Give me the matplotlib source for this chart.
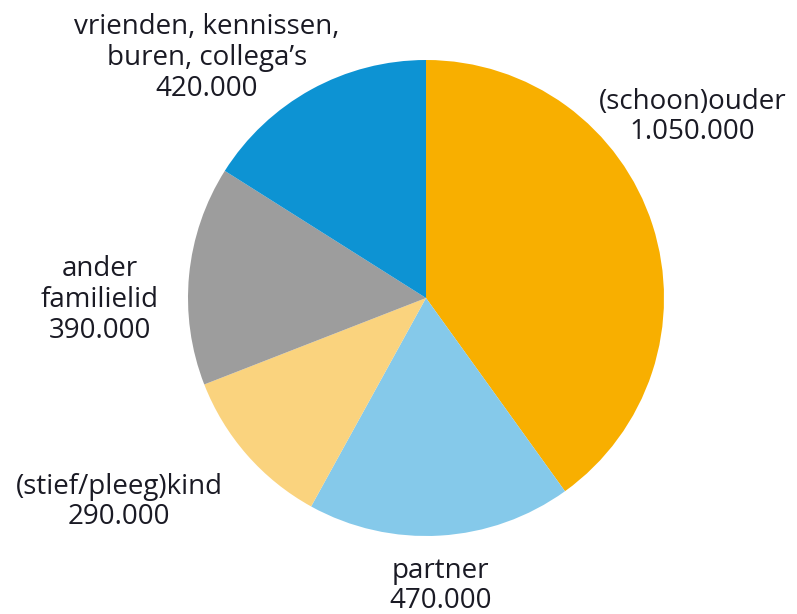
import matplotlib
matplotlib.use("Agg")
import matplotlib.pyplot as plt

labels = ["(schoon)ouder", "partner", "(stief/pleeg)kind", "ander\nfamilielid", "vrienden, kennissen,\nburen, collega\u2019s"]
values = [1050000, 470000, 290000, 390000, 420000]
colors = ["#F8AF00", "#85C9EA", "#FAD37E", "#9D9D9D", "#0D93D3"]

# label centres in axes data units (pie radius = 1)
label_pos = [(1.12, 0.76), (0.06, -1.21), (-1.29, -0.857), (-1.37, -0.008), (-0.92, 1.008)]

def fmt(v):
    return "{:,}".format(v).replace(",", ".")

fig = plt.figure(figsize=(7.97, 6.14), dpi=100)
ax = fig.add_axes([188/797, 78/614, 476/797, 476/614])
ax.pie(values, colors=colors, startangle=90, counterclock=False, radius=1,
       wedgeprops=dict(linewidth=0))
ax.set_xlim(-1, 1)
ax.set_ylim(-1, 1)
ax.set_aspect("equal")
ax.axis("off")

for lab, v, (x, y) in zip(labels, values, label_pos):
    ax.text(x, y, lab + "\n" + fmt(v), ha="center", va="center", fontsize=20,
            family="Open Sans", color="#1a1a24", linespacing=1.13, clip_on=False)

fig.savefig("out.png", dpi=100)
